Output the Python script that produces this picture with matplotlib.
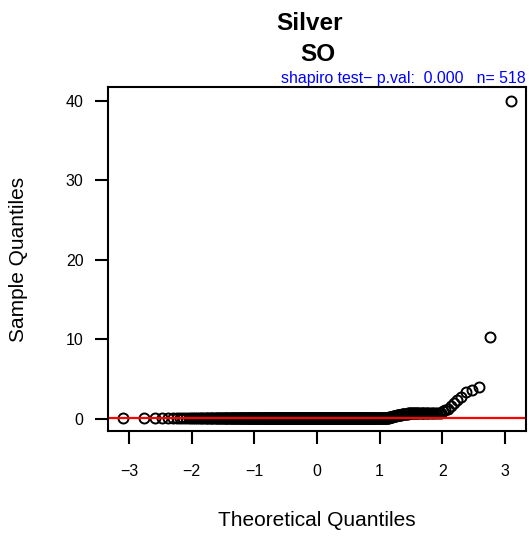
from statistics import NormalDist

import numpy as np
import matplotlib
matplotlib.use("Agg")
import matplotlib.pyplot as plt

plt.rcParams["font.family"] = ["Liberation Sans", "DejaVu Sans"]

bulk_value = 0.15
bulk_count = 452
rise_values = [0.18, 0.2, 0.22, 0.24, 0.26, 0.28, 0.3, 0.32, 0.34, 0.36,
               0.38, 0.4, 0.42, 0.44, 0.46, 0.48, 0.5, 0.52, 0.54, 0.56,
               0.58, 0.6, 0.62, 0.64, 0.65, 0.66, 0.67, 0.68, 0.69, 0.7]
plateau_values = [0.75] * 10 + [0.8] * 14
tail_values = [1.0, 1.1, 1.3, 1.6, 2.0, 2.4, 2.8, 3.4, 3.6, 4.0, 10.3, 40.0]

title_top = "Silver"
title_bottom = "SO"
note = "shapiro test\u2212 p.val:  0.000   n= 518"
x_ticks = [-3, -2, -1, 0, 1, 2, 3]
y_ticks = [0, 10, 20, 30, 40]

sample = np.array([bulk_value] * bulk_count + rise_values + plateau_values + tail_values)
sample = np.sort(sample)
n = len(sample)

# qqnorm: theoretical quantiles with ppoints
nd = NormalDist()
a = 3 / 8 if n <= 10 else 0.5
probs = (np.arange(1, n + 1) - a) / (n + 1 - 2 * a)
theo = np.array([nd.inv_cdf(p) for p in probs])

# qqline through the quartiles
q_s = np.quantile(sample, [0.25, 0.75])
q_t = np.array([nd.inv_cdf(0.25), nd.inv_cdf(0.75)])
slope = (q_s[1] - q_s[0]) / (q_t[1] - q_t[0])
inter = q_s[0] - slope * q_t[0]

W, H = 529, 536
fig = plt.figure(figsize=(W / 100, H / 100), dpi=100)
ax = fig.add_axes([108 / W, 1 - 431 / H, (526 - 108) / W, (431 - 87) / H])

ax.plot(theo, sample, "o", mfc="none", mec="black", ms=7.2, mew=1.4)
xx = np.array([-4, 4])
ax.plot(xx, inter + slope * xx, color="red", lw=1.6)

ax.set_xlim(-3.335, 3.335)
ax.set_ylim(-1.51, 41.7)
ax.set_xticks(x_ticks)
ax.set_xticklabels([str(t).replace("-", "\u2212") for t in x_ticks])
ax.set_yticks(y_ticks)
ax.tick_params(axis="both", direction="out", length=9.5, width=1.5, labelsize=11.5)
ax.tick_params(axis="x", pad=14)
ax.tick_params(axis="y", pad=8)
for s in ax.spines.values():
    s.set_linewidth(1.5)

fig.text(310 / W, 1 - 30 / H, title_top, ha="center", va="baseline", fontsize=17.5, fontweight="bold")
fig.text(318 / W, 1 - 61 / H, title_bottom, ha="center", va="baseline", fontsize=17.5, fontweight="bold")
fig.text(526 / W, 1 - 83 / H, note, ha="right", va="baseline", fontsize=11.4, color="blue")
fig.text(317 / W, 1 - 526.5 / H, "Theoretical Quantiles", ha="center", va="baseline", fontsize=15)
fig.text(19 / W, 1 - 259 / H, "Sample Quantiles", ha="center", va="center", rotation=90, fontsize=15)

fig.savefig("out.png", dpi=100)
